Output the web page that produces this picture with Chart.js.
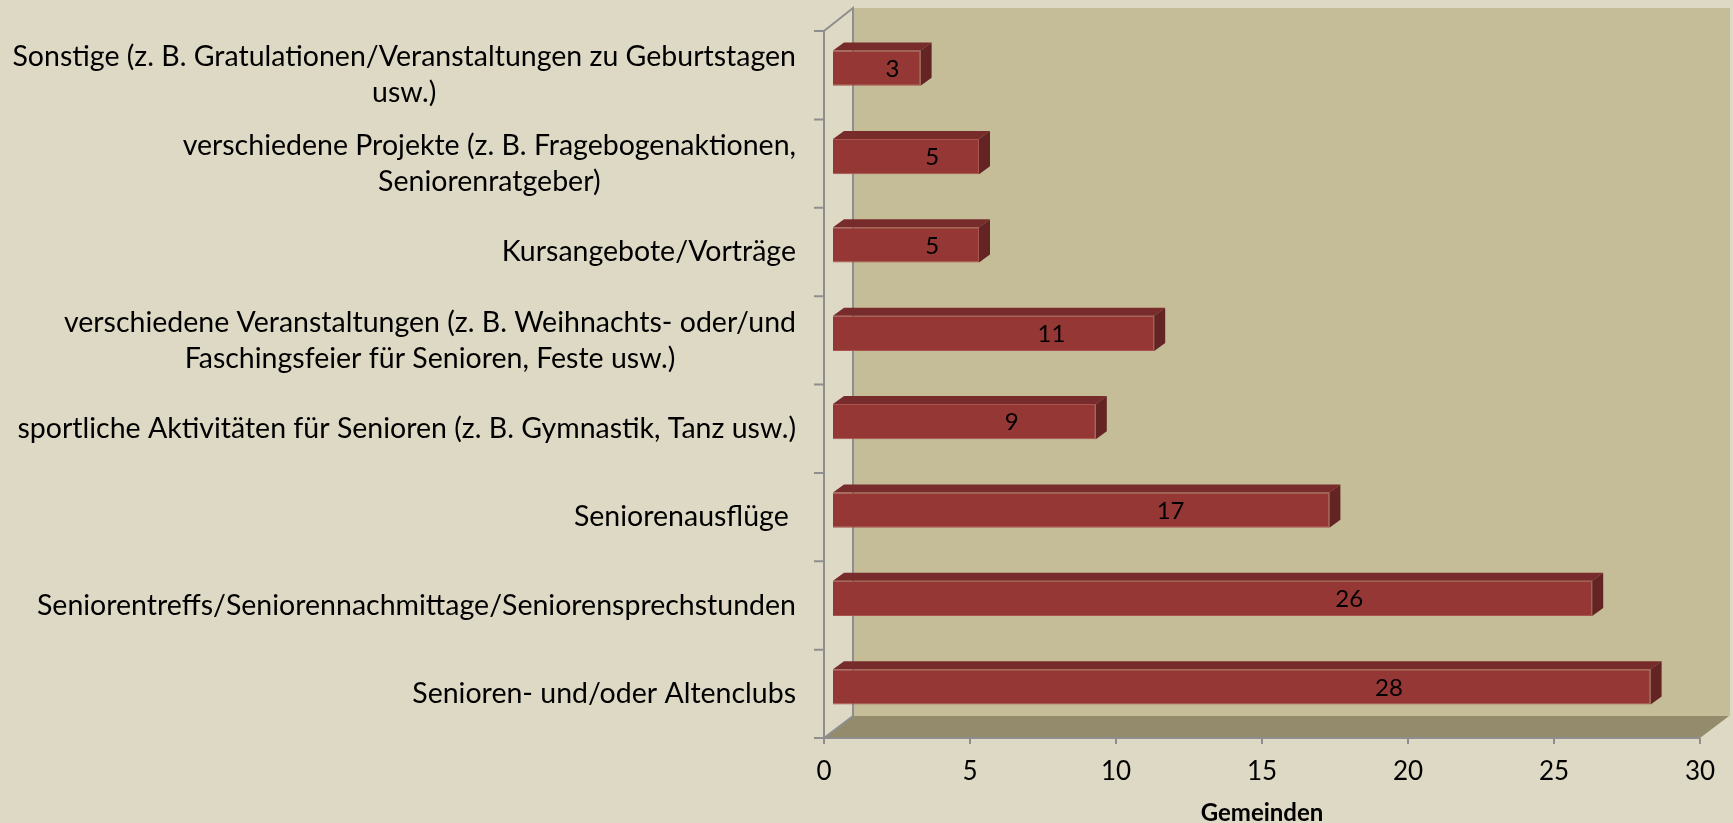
<!DOCTYPE html>
<html>
<head>
<meta charset="utf-8">
<script src="https://cdn.jsdelivr.net/npm/chart.js@4.4.0/dist/chart.umd.min.js"></script>
<style>
  html, body { margin: 0; padding: 0; background: #DDD9C4; }
  #wrap { width: 1733px; height: 823px; }
</style>
</head>
<body>
<div id="wrap"><canvas id="myChart" width="1733" height="823"></canvas></div>
<script>
// categories, top to bottom
const categories = [
    ["Sonstige (z. B. Gratulationen/Veranstaltungen zu Geburtstagen", "usw.)"],
    ["verschiedene Projekte (z. B. Fragebogenaktionen,", "Seniorenratgeber)"],
    ["Kursangebote/Vorträge"],
    ["verschiedene Veranstaltungen (z. B. Weihnachts- oder/und", "Faschingsfeier für Senioren, Feste usw.)"],
    ["sportliche Aktivitäten für Senioren (z. B. Gymnastik, Tanz usw.)"],
    ["Seniorenausflüge "],
    ["Seniorentreffs/Seniorennachmittage/Seniorensprechstunden"],
    ["Senioren- und/oder Altenclubs"]
];
const gemeinden = [3, 5, 5, 11, 9, 17, 26, 28];
const xTicks = [0, 5, 10, 15, 20, 25, 30];
const axisTitle = "Gemeinden";

const FONT = "Lato, 'Open Sans', sans-serif";
const WALL_DX = 29, WALL_DY = 22;   // depth of the 3d box
const BAR_DX = 11, BAR_DY = 8;      // depth of each bar
const BAR_SHIFT_X = 9, BAR_SHIFT_Y = -7;

const boxPlugin = {
    id: "box3d",
    beforeDraw(chart) {
        const ctx = chart.ctx;
        const a = chart.chartArea;
        const xs = chart.scales.x, ys = chart.scales.y;
        ctx.save();
        ctx.fillStyle = "#DDD9C4";
        ctx.fillRect(0, 0, chart.width, chart.height);

        // back wall
        ctx.fillStyle = "#C4BD97";
        ctx.fillRect(a.left + WALL_DX, a.top - WALL_DY - 1, a.right - a.left + 1, a.bottom - a.top + 1);

        // floor
        ctx.fillStyle = "#948B6C";
        ctx.beginPath();
        ctx.moveTo(a.left, a.bottom);
        ctx.lineTo(a.right, a.bottom);
        ctx.lineTo(a.right + WALL_DX, a.bottom - WALL_DY);
        ctx.lineTo(a.left + WALL_DX, a.bottom - WALL_DY);
        ctx.closePath();
        ctx.fill();

        // left wall edges + axis lines
        ctx.strokeStyle = "#8E8E8E";
        ctx.lineWidth = 2;
        ctx.beginPath();
        ctx.moveTo(a.left, a.top);
        ctx.lineTo(a.left + WALL_DX, a.top - WALL_DY - 1);
        ctx.lineTo(a.left + WALL_DX, a.bottom - WALL_DY);
        ctx.lineTo(a.left, a.bottom);
        ctx.moveTo(a.left, a.top);
        ctx.lineTo(a.left, a.bottom);
        ctx.lineTo(a.right, a.bottom);
        // x ticks
        xTicks.forEach(v => {
            const px = xs.getPixelForValue(v);
            ctx.moveTo(px, a.bottom);
            ctx.lineTo(px, a.bottom + 6);
        });
        // y ticks on category borders
        const band = (a.bottom - a.top) / categories.length;
        for (let i = 0; i <= categories.length; i++) {
            const py = a.top + band * i;
            ctx.moveTo(a.left - 10, py);
            ctx.lineTo(a.left, py);
        }
        ctx.stroke();

        // category labels, block right-aligned, lines centred
        ctx.fillStyle = "#000";
        ctx.font = "28.5px " + FONT;
        ctx.textBaseline = "middle";
        ctx.textAlign = "center";
        const rightEdge = a.left - 28;
        const lh = 36;
        categories.forEach((lines, i) => {
            const cy = ys.getPixelForTick(i);
            const w = Math.max(...lines.map(l => ctx.measureText(l).width));
            const cx = rightEdge - w / 2;
            lines.forEach((l, j) => {
                ctx.fillText(l, cx, cy + (j - (lines.length - 1) / 2) * lh);
            });
        });
        ctx.restore();
    },
    beforeDatasetsDraw(chart) {
        chart.ctx.save();
        chart.ctx.translate(BAR_SHIFT_X, BAR_SHIFT_Y);
    },
    afterDatasetsDraw(chart) {
        const ctx = chart.ctx;
        const meta = chart.getDatasetMeta(0);
        const xs = chart.scales.x;
        meta.data.forEach((bar, i) => {
            const p = bar.getProps(["x", "y", "base", "height"], true);
            const x0 = p.base, x1 = p.x;
            const yT = p.y - p.height / 2, yB = p.y + p.height / 2;
            // top face
            ctx.fillStyle = "#772B2A";
            ctx.beginPath();
            ctx.moveTo(x0, yT);
            ctx.lineTo(x0 + BAR_DX, yT - BAR_DY);
            ctx.lineTo(x1 + BAR_DX, yT - BAR_DY);
            ctx.lineTo(x1, yT);
            ctx.closePath();
            ctx.fill();
            // side face
            ctx.fillStyle = "#632423";
            ctx.beginPath();
            ctx.moveTo(x1, yT);
            ctx.lineTo(x1 + BAR_DX, yT - BAR_DY);
            ctx.lineTo(x1 + BAR_DX, yB - BAR_DY);
            ctx.lineTo(x1, yB);
            ctx.closePath();
            ctx.fill();
            // value label
            ctx.fillStyle = "#000";
            ctx.font = "24px " + FONT;
            ctx.textAlign = "center";
            ctx.textBaseline = "middle";
            ctx.fillText(String(gemeinden[i]), xs.getPixelForValue(gemeinden[i] * 0.68), p.y + 1);
        });
        ctx.restore();
    }
};

new Chart(document.getElementById("myChart"), {
    type: "bar",
    data: {
        labels: categories,
        datasets: [{
            label: axisTitle,
            data: gemeinden,
            backgroundColor: "#953735",
            borderColor: "#A9544F",
            borderWidth: 1,
            categoryPercentage: 1,
            barPercentage: 0.4,
            clip: false
        }]
    },
    options: {
        indexAxis: "y",
        responsive: false,
        animation: false,
        layout: { padding: { left: 824, right: 33, top: 31, bottom: 0 } },
        plugins: {
            legend: { display: false },
            tooltip: { enabled: false }
        },
        scales: {
            y: { display: false },
            x: {
                min: 0,
                max: 30,
                afterFit(scale) { scale.height = 85; },
                afterBuildTicks(scale) { scale.ticks = xTicks.map(v => ({ value: v })); },
                grid: { display: false },
                border: { display: false },
                ticks: {
                    color: "#000",
                    font: { family: FONT, size: 26 },
                    padding: 10,
                    maxRotation: 0
                },
                title: {
                    display: true,
                    text: axisTitle,
                    color: "#000",
                    font: { family: FONT, size: 24, weight: "bold", lineHeight: 0.8 },
                    padding: { top: 0, bottom: 0 }
                }
            }
        }
    },
    plugins: [boxPlugin]
});
</script>
</body>
</html>
